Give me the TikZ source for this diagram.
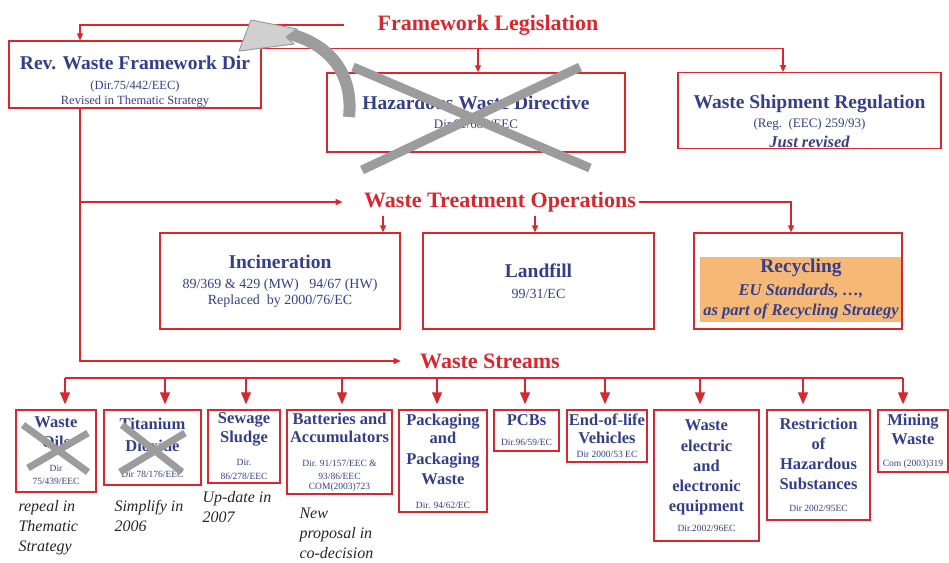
\documentclass[tikz,border=0pt]{standalone}
\usepackage{fontspec}
\setmainfont{Liberation Serif}
\usetikzlibrary{arrows.meta}
\usetikzlibrary{positioning}

\definecolor{wred}{HTML}{D8282F}
\definecolor{wblue}{HTML}{343F8C}
\definecolor{worange}{HTML}{F6B877}
\definecolor{wgrey}{HTML}{9C9C9C}
\definecolor{wlight}{HTML}{D0D0D0}
\definecolor{wnote}{HTML}{262626}

\newcommand{\headfont}{\bfseries\fontsize{19.5}{22}\selectfont}
\newcommand{\dirfont}{\mdseries\fontsize{9.5}{11}\selectfont}

\tikzset{
    box/.style={draw=wred, line width=1.4pt, align=center, text=wblue, inner sep=1pt},
    wastebox/.style={box, font=\fontsize{16.5}{19.5}\selectfont\bfseries},
    headline/.style={text=wred, font=\fontsize{22}{26}\selectfont\bfseries},
    link/.style={draw=wred, line width=1.2pt},
    arr/.style={link, -{Triangle[width=6pt,length=7pt]}},
    bigarr/.style={link, -{Triangle[width=10pt,length=12pt]}, shorten >=5pt},
    note/.style={font=\fontsize{16}{20}\selectfont\itshape, text=wnote, align=left, inner sep=0pt},
    strikeout/.style={draw=wgrey, line width=#1},
}

\begin{document}
\begin{tikzpicture}[x=1pt, y=-1pt]

\useasboundingbox (0,0) rectangle (949,562);

\node[headline] (legis) at (488,25) {Framework Legislation};

\node[box, minimum width=252pt, minimum height=65pt, font=\fontsize{12.5}{14.5}\selectfont] (revwfd) at (135,74.5)
    {\rule{0pt}{27pt}{\headfont Rev. Waste Framework Dir}\\[6pt] (Dir.75/442/EEC)\\ Revised in Thematic Strategy};

\node[box, minimum width=298pt, minimum height=79pt, font=\fontsize{13}{14}\selectfont] (hwd) at (476,112.5)
    {{\headfont Hazardous Waste Directive}\\[5pt] Dir.91/689/EEC};

\node[box, minimum width=263pt, minimum height=75pt, font=\fontsize{13}{14}\selectfont] (wsr) at (809.5,110.5)
    {\rule{0pt}{35pt}{\headfont Waste Shipment Regulation}\\[5pt] (Reg.~~(EEC) 259/93)\\[4pt]
     {\bfseries\itshape\fontsize{16.5}{18}\selectfont Just revised}};

\node[headline] (wto) at (500,202) {Waste Treatment Operations};

\node[box, minimum width=240pt, minimum height=96pt, font=\fontsize{14}{16}\selectfont] (incin) at (280,281)
    {{\headfont Incineration}\\[4pt] 89/369 \& 429 (MW)~~~94/67 (HW)\\ Replaced~~by 2000/76/EC};

\node[box, minimum width=231pt, minimum height=96pt, font=\fontsize{14}{16}\selectfont] (landfill) at (538.5,281)
    {{\headfont Landfill}\\[5pt] 99/31/EC};

\node[fill=worange, minimum width=202pt, minimum height=65pt, inner sep=0pt, align=center, text=wblue,
      font=\fontsize{16.5}{20}\selectfont\bfseries\itshape] (recfill) at (801,289.5)
    {{\headfont\upshape Recycling}\\[3pt] EU Standards, \dots,\\ as part of Recycling Strategy};
\node[box, minimum width=208pt, minimum height=96pt] (recycling) at (798,281) {};

\node[headline] (streams) at (490,361) {Waste Streams};

\node[wastebox, minimum width=80pt, minimum height=82pt] (oils) at (56,451)
    {Waste\\Oils\\[5pt]{\dirfont Dir}\\[-6.5pt]{\dirfont 75/439/EEC}};
\node[wastebox, minimum width=97pt, minimum height=75pt] (tio2) at (152.5,447.5)
    {Titanium\\[2.5pt]Dioxide\\[6.5pt]{\dirfont Dir 78/176/EEC}};
\node[wastebox, minimum width=72pt, minimum height=73pt] (sludge) at (244,446.5)
    {Sewage\\[-0.5pt]Sludge\\[3.5pt]{\dirfont Dir.}\\[-5.5pt]{\dirfont 86/278/EEC}};
\node[wastebox, minimum width=105pt, minimum height=84pt] (batteries) at (339.5,452)
    {Batteries and\\[-1.5pt]Accumulators\\[4.5pt]{\dirfont Dir. 91/157/EEC \&}\\[-6.5pt]{\dirfont 93/86/EEC}\\[-9.5pt]{\dirfont COM(2003)723}};
\node[wastebox, minimum width=88pt, minimum height=102pt] (packaging) at (443,461)
    {Packaging\\[-1.5pt]and\\[1.5pt]Packaging\\[0.5pt]Waste\\[4.5pt]{\dirfont Dir. 94/62/EC}};
\node[wastebox, minimum width=65pt, minimum height=41pt] (pcbs) at (526.5,430.5)
    {PCBs\\[0.5pt]{\dirfont Dir.96/59/EC}};
\node[wastebox, minimum width=80pt, minimum height=52pt] (elv) at (607,436)
    {End-of-life\\[-1.5pt]Vehicles\\[-5.5pt]{\dirfont Dir 2000/53 EC}};
\node[wastebox, minimum width=105pt, minimum height=131pt] (weee) at (706.5,475.5)
    {Waste\\[1.5pt]electric\\[0.5pt]and\\[0.5pt]electronic\\[0.5pt]equipment\\[0.5pt]{\dirfont Dir.2002/96EC}};
\node[wastebox, minimum width=103pt, minimum height=110pt] (rohs) at (818.5,465)
    {Restriction\\[0.5pt]of\\[0.5pt]Hazardous\\[0.5pt]Substances\\[2.5pt]{\dirfont Dir 2002/95EC}};
\node[wastebox, minimum width=70pt, minimum height=62pt] (mining) at (913,441)
    {Mining\\[-0.5pt]Waste\\[2.5pt]{\dirfont Com (2003)319}};

\node[note, below right=7pt and 3pt of oils.south west] (oilsnote) {repeal in\\Thematic\\Strategy};
\node[note, below right=14.5pt and 11pt of tio2.south west] (tio2note) {Simplify in\\2006};
\node[note, below right=7.5pt and -5pt of sludge.south west] (sludgenote) {Up-date in\\2007};
\node[note, below right=13.5pt and 13pt of batteries.south west] (batterynote) {New\\proposal in\\co-decision};

\coordinate (fltop) at ([yshift=-8pt]revwfd.north east);
\coordinate (trunk) at ([xshift=-55pt]revwfd.south);
\coordinate (busL) at (65,378);
\coordinate (busR) at (903,378);

\draw[arr] ([xshift=-30pt]legis.west) -| ([xshift=-55pt]revwfd.north);
\draw[arr] (fltop) -| ([xshift=-26.5pt]wsr.north);
\draw[arr] ([xshift=2pt]hwd.north |- fltop) -- ([xshift=2pt]hwd.north);

\draw[arr] (trunk) |- ([xshift=-16pt]streams.west);
\draw[arr] (trunk |- wto.west) -- ([xshift=-18pt]wto.west);
\draw[arr] (wto.east) -| ([xshift=-7pt]recycling.north);
\draw[arr] ([xshift=103pt]incin.north |- wto.south) -- ([xshift=103pt]incin.north);
\draw[arr] ([xshift=-3.5pt]landfill.north |- wto.south) -- ([xshift=-3.5pt]landfill.north);

\draw[link] (busL) -- (busR);
\foreach \x/\target in {65/oils,165/tio2,246/sludge,342/batteries,437/packaging,525/pcbs,605/elv,700/weee,803/rohs,903/mining}
    \draw[bigarr] (busL -| \x,0) -- (\x,0 |- \target.north);

\draw[strikeout=9pt] (353,67) -- (590,168);
\draw[strikeout=9pt] (580,67) -- (362,170);
\draw[strikeout=7pt] (23,425) -- (88,472);
\draw[strikeout=7pt] (28,468) -- (88,433);
\draw[strikeout=7pt] (122,425) -- (182,472);
\draw[strikeout=7pt] (120,472) -- (185,433);

\draw[draw=wgrey, line width=12pt] (349,117) .. controls (353,80) and (336,45) .. (286,33);
\filldraw[fill=wlight, draw=wgrey, line width=1pt, line join=round]
    (251,20) -- (297,29) -- (286,37) -- (294,44) -- (239,51) -- cycle;

\end{tikzpicture}
\end{document}
